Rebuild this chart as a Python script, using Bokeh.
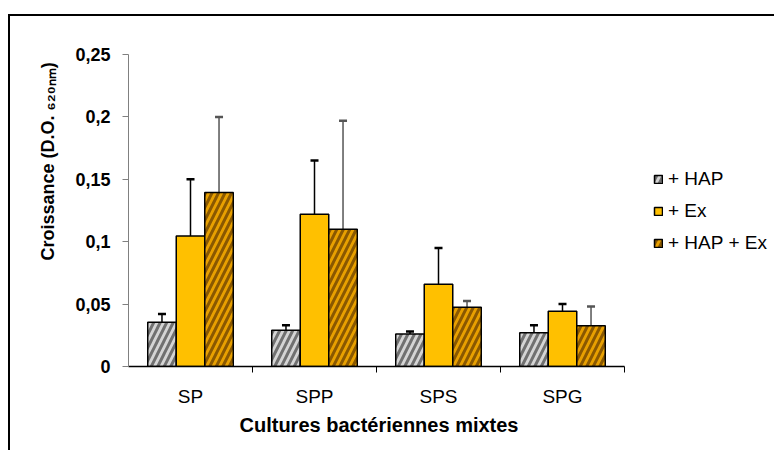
from bokeh.plotting import figure
from bokeh.models import (ColumnDataSource, Whisker, TeeHead, FixedTicker,
                          Legend, LegendItem, Title, Range1d)
from bokeh.embed import file_html
from bokeh.resources import INLINE

# ---------------- data ----------------
categories = ["SP", "SPP", "SPS", "SPG"]
series_names = ["+ HAP", "+ Ex", "+ HAP + Ex"]

hap = [0.0355, 0.029, 0.026, 0.027]
hap_err = [0.0065, 0.004, 0.002, 0.006]
ex = [0.1045, 0.122, 0.066, 0.0443]
ex_err = [0.0455, 0.043, 0.029, 0.0057]
hap_ex = [0.1395, 0.110, 0.0475, 0.0326]
hap_ex_err = [0.0605, 0.087, 0.005, 0.0154]

y_ticks = [0, 0.05, 0.1, 0.15, 0.2, 0.25]
y_tick_labels = ["0", "0,05", "0,1", "0,15", "0,2", "0,25"]

x_title = "Cultures bactériennes mixtes"
y_title = "Croissance (D.O. \u2086\u2082\u2080\u2099\u2098)"

FONT = "Liberation Sans"

# ---------------- layout ----------------
FIG_W, FIG_H = 766, 436
LEFT, TOP, BOTTOM = 118, 38, 86
AXIS_W = 496                       # pixel length of the category axis
FRAME_W = FIG_W - LEFT             # frame runs to the right edge (legend inside)
n = len(categories)
x_end = n * FRAME_W / AXIS_W

p = figure(width=FIG_W, height=FIG_H, x_range=Range1d(0, x_end),
           y_range=Range1d(0, 0.25), output_backend="svg",
           toolbar_location=None, min_border_left=LEFT, min_border_right=0,
           min_border_top=TOP, min_border_bottom=BOTTOM)
p.margin = (14, 0, 0, 8)
p.styles = {"border-left": "2px solid black", "border-top": "2px solid black"}
p.outline_line_color = None
p.xgrid.visible = False
p.ygrid.visible = False
p.background_fill_color = "white"
p.border_fill_color = "white"

bar_w = 0.23
offsets = [-bar_w, 0.0, bar_w]
values = [hap, ex, hap_ex]
errors = [hap_err, ex_err, hap_ex_err]
styles = [
    dict(fill_color="#d4d4d4", hatch_pattern="/", hatch_color="#707070",
         hatch_weight=3, hatch_scale=13),
    dict(fill_color="#FFC000"),
    dict(fill_color="#e8a000", hatch_pattern="/", hatch_color="#8a5800",
         hatch_weight=3, hatch_scale=13),
]
whisker_colors = ["black", "black", "#555555"]

renderers = []
for vals, errs, off, st, wc in zip(values, errors, offsets, styles,
                                   whisker_colors):
    src = ColumnDataSource(dict(
        x=[i + 0.5 + off for i in range(n)],
        top=vals,
        upper=[v + e for v, e in zip(vals, errs)],
    ))
    r = p.vbar(x="x", top="top", bottom=0, width=bar_w, source=src,
               line_color="black", line_width=1.5, **st)
    renderers.append(r)
    w = Whisker(source=src, base="x", lower="top", upper="upper",
                line_color=wc, line_width=1.5,
                upper_head=TeeHead(size=8, line_width=2.5, line_color=wc),
                lower_head=None)
    p.add_layout(w)

# ---------------- axes ----------------
xa = p.xaxis[0]
xa.bounds = (0, n)
xa.ticker = FixedTicker(ticks=[i + 0.5 for i in range(n)],
                        minor_ticks=list(range(1, n + 1)))
xa.major_label_overrides = {i + 0.5: c for i, c in enumerate(categories)}
xa.major_tick_out = 0
xa.major_tick_in = 0
xa.minor_tick_out = 6
xa.minor_tick_in = 0
xa.minor_tick_line_color = "black"
xa.axis_line_color = "black"
xa.axis_line_width = 1.5
xa.major_label_standoff = 13
xa.major_label_text_font = FONT
xa.major_label_text_font_size = "19px"
xa.major_label_text_color = "black"

p.add_layout(Title(text=x_title, align="left", offset=111, standoff=4,
                   text_font=FONT, text_font_size="20px",
                   text_font_style="bold", text_color="black"), "below")

ya = p.yaxis[0]
ya.ticker = FixedTicker(ticks=y_ticks, minor_ticks=[])
ya.major_label_overrides = {t: l for t, l in zip(y_ticks, y_tick_labels)}
ya.major_tick_out = 6
ya.major_tick_in = 0
ya.major_tick_line_color = "#808080"
ya.axis_line_color = "#808080"
ya.axis_line_width = 1
ya.major_label_standoff = 12
ya.major_label_text_font = FONT
ya.major_label_text_font_size = "18px"
ya.major_label_text_font_style = "bold"
ya.major_label_text_color = "black"

p.add_layout(Title(text=y_title, align="left", offset=106, standoff=30,
                   text_font=FONT, text_font_size="18px",
                   text_font_style="bold", text_color="black"), "left")

# ---------------- legend ----------------
legend = Legend(items=[LegendItem(label=s, renderers=[r])
                       for s, r in zip(series_names, renderers)],
                location=(525, 112), glyph_width=10, glyph_height=10,
                label_height=20, spacing=10, padding=0, margin=0,
                border_line_color=None, background_fill_alpha=0,
                label_standoff=5, label_text_font=FONT,
                label_text_font_size="19px", label_text_color="black")
p.add_layout(legend)

open("out.html", "w").write(file_html(p, INLINE))
